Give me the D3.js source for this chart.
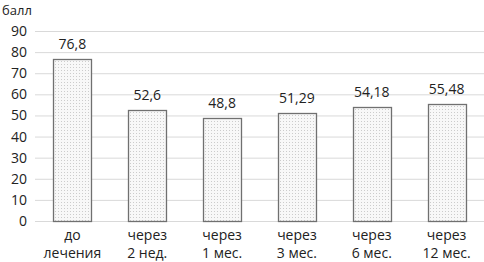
<!DOCTYPE html>
<html><head><meta charset="utf-8">
<script src="https://cdn.jsdelivr.net/npm/d3@7"></script>
<style>body{margin:0;background:#fff}svg{display:block;font-family:"Open Sans",sans-serif}</style>
</head><body>
<script>
const categories = [["до","лечения"],["через","2 нед."],["через","1 мес."],["через","3 мес."],["через","6 мес."],["через","12 мес."]];
const values = [76.8, 52.6, 48.8, 51.29, 54.18, 55.48];
const valueLabels = ["76,8","52,6","48,8","51,29","54,18","55,48"];
const yTicks = [0,10,20,30,40,50,60,70,80,90];
const yTitle = "балл";

const W=484,H=262;
const svg=d3.select("body").append("svg").attr("width",W).attr("height",H);
const defs=svg.append("defs");
const pat=defs.append("pattern").attr("id","dots").attr("patternUnits","userSpaceOnUse").attr("width",3).attr("height",3);
pat.append("rect").attr("width",3).attr("height",3).attr("fill","#f8f8f8");
pat.append("rect").attr("x",1).attr("y",1).attr("width",1).attr("height",1).attr("fill","#cccccc");

const x=d3.scaleBand().domain(d3.range(categories.length)).range([35,484]).paddingInner(0.49).paddingOuter(0.245);
const y=d3.scaleLinear().domain([0,90]).range([221,31]);

const g=svg.append("g");
g.selectAll("line.grid").data(yTicks).join("line").attr("class","grid")
 .attr("x1",35).attr("x2",484).attr("y1",d=>y(d)+0.5).attr("y2",d=>y(d)+0.5)
 .attr("stroke","#d9d9d9").attr("stroke-width",1);

const yAxis=d3.axisLeft(y).tickValues(yTicks).tickSize(0).tickPadding(8);
const ya=svg.append("g").attr("transform","translate(35,0)").call(yAxis);
ya.select(".domain").remove();
ya.selectAll("text").attr("font-size",14).attr("fill","#222").attr("font-family","Open Sans, sans-serif");

svg.selectAll("rect.bar").data(values).join("rect").attr("class","bar")
 .attr("x",(d,i)=>Math.round(x(i))+0.5).attr("width",Math.round(x.bandwidth()))
 .attr("y",d=>Math.round(y(d))+0.5).attr("height",d=>Math.round(y(0))-Math.round(y(d)))
 .attr("fill","url(#dots)").attr("stroke","#707070").attr("stroke-width",1.3);

svg.selectAll("text.val").data(values).join("text").attr("class","val")
 .attr("x",(d,i)=>x(i)+x.bandwidth()/2).attr("y",d=>y(d)-10)
 .attr("text-anchor","middle").attr("font-size",14).attr("fill","#222")
 .text((d,i)=>valueLabels[i]);

const xl=svg.selectAll("text.cat").data(categories).join("text").attr("class","cat")
 .attr("text-anchor","middle").attr("font-size",14).attr("fill","#222");
xl.each(function(d,i){
  const t=d3.select(this);
  d.forEach((s,k)=>t.append("tspan").attr("x",x(i)+x.bandwidth()/2).attr("y",240+k*18).text(s));
});

svg.append("text").attr("x",2).attr("y",15).attr("font-size",13).attr("fill","#222").text(yTitle);
</script>
</body></html>
